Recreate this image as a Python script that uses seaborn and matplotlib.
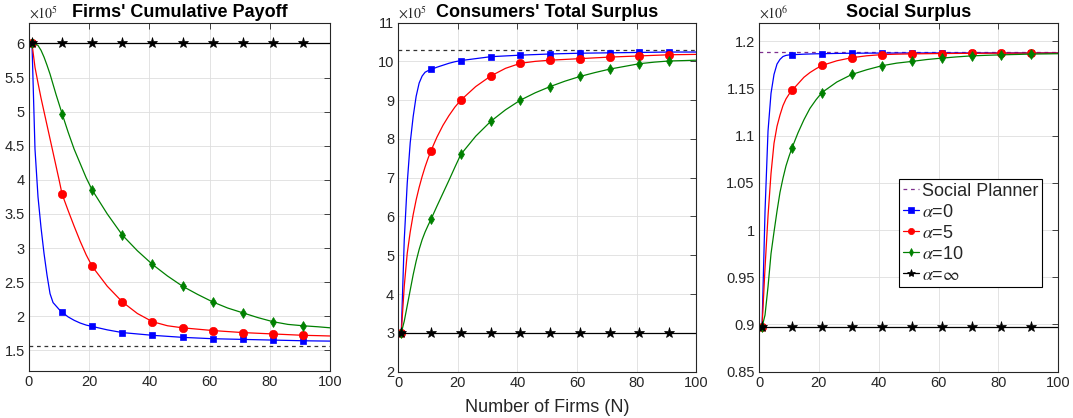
import seaborn as sns
import matplotlib.pyplot as plt
import pandas as pd
import numpy as np

# Número de firmas onde os valores foram lidos
n = [1, 2, 3, 4, 5, 6, 7, 8, 9, 10, 11, 13, 15, 17, 19,
     21, 26, 31, 36, 41, 46, 51, 56, 61, 66, 71, 76, 81, 86, 91, 96, 100]
n_marcadores = [1, 11, 21, 31, 41, 51, 61, 71, 81, 91]

# Firms' Cumulative Payoff (x10^5)
firms_a0 = [6.0, 4.45, 3.75, 3.3, 2.92, 2.6, 2.33, 2.2, 2.15, 2.1, 2.06,
            1.99, 1.94, 1.9, 1.87,
            1.85, 1.8, 1.76, 1.74, 1.72, 1.705, 1.69, 1.68, 1.67, 1.665, 1.66, 1.655, 1.65, 1.645, 1.64, 1.637,
            1.635]
firms_a5 = [6.0, 5.65, 5.42, 5.2, 5.0, 4.8, 4.6, 4.4, 4.2, 4.0, 3.79,
            3.55, 3.32, 3.1, 2.9,
            2.73, 2.44, 2.21, 2.04, 1.92, 1.86, 1.83, 1.81, 1.79, 1.775, 1.76, 1.75, 1.74, 1.73, 1.72, 1.715,
            1.71]
firms_a10 = [6.0, 6.0, 5.97, 5.9, 5.8, 5.68, 5.55, 5.4, 5.25, 5.11, 4.97,
             4.7, 4.45, 4.24, 4.03,
             3.85, 3.5, 3.19, 2.96, 2.76, 2.59, 2.44, 2.32, 2.21, 2.12, 2.05, 1.98, 1.92, 1.88, 1.86, 1.845,
             1.83]
firms_inf = 6.0
firms_planner = 1.57

# Consumers' Total Surplus (x10^5)
cons_a0 = [3.0, 5.4, 6.86, 7.9, 8.58, 9.1, 9.44, 9.62, 9.72, 9.76, 9.79,
           9.85, 9.9, 9.95, 9.99,
           10.02, 10.07, 10.12, 10.14, 10.16, 10.175, 10.19, 10.2, 10.21, 10.215, 10.22, 10.225, 10.23, 10.235, 10.24, 10.24,
           10.24]
cons_a5 = [3.0, 4.2, 5.05, 5.6, 6.05, 6.43, 6.75, 7.03, 7.28, 7.5, 7.7,
           8.05, 8.35, 8.6, 8.82,
           9.0, 9.35, 9.62, 9.82, 9.95, 10.0, 10.03, 10.05, 10.07, 10.09, 10.11, 10.125, 10.14, 10.155, 10.17, 10.175,
           10.18]
cons_a10 = [3.0, 3.3, 3.7, 4.1, 4.5, 4.85, 5.15, 5.4, 5.6, 5.77, 5.93,
            6.27, 6.6, 6.93, 7.27,
            7.6, 8.07, 8.45, 8.75, 9.0, 9.19, 9.35, 9.49, 9.61, 9.71, 9.8, 9.87, 9.94, 9.98, 10.01, 10.02,
            10.03]
cons_inf = 3.0
cons_planner = 10.3

# Social Surplus (x10^6)
soc_a0 = [0.897, 1.02, 1.105, 1.145, 1.165, 1.176, 1.181, 1.184, 1.1852, 1.1857, 1.186,
          1.1862, 1.1865, 1.1867, 1.1869,
          1.187, 1.1873, 1.1875, 1.1876, 1.1877, 1.1877, 1.1878, 1.1878, 1.1878, 1.1878, 1.1878, 1.1878, 1.1878, 1.1878, 1.1878, 1.1878,
          1.1878]
soc_a5 = [0.897, 0.96, 1.015, 1.06, 1.092, 1.11, 1.122, 1.132, 1.139, 1.144, 1.148,
          1.155, 1.162, 1.167, 1.171,
          1.1745, 1.1795, 1.1828, 1.1848, 1.186, 1.1865, 1.1868, 1.187, 1.1872, 1.1873, 1.1874, 1.1875, 1.1876, 1.1876, 1.1877, 1.1877,
          1.1877]
soc_a10 = [0.897, 0.91, 0.94, 0.975, 0.998, 1.02, 1.04, 1.055, 1.068, 1.078, 1.087,
           1.103, 1.117, 1.129, 1.138,
           1.1458, 1.157, 1.165, 1.170, 1.1742, 1.177, 1.1788, 1.1808, 1.1823, 1.1836, 1.1847, 1.1853, 1.1858, 1.1862, 1.1866, 1.1868,
           1.187]
soc_inf = 0.897
soc_planner = 1.1883

rotulos = [r'$\alpha$=0', r'$\alpha$=5', r'$\alpha$=10', r'$\alpha$=$\infty$']
titulos = ["Firms' Cumulative Payoff", "Consumers' Total Surplus", "Social Surplus"]
expoentes = [5, 5, 6]

sns.set_theme(style='white')
plt.rcParams['font.family'] = ['Liberation Sans', 'DejaVu Sans']
plt.rcParams['mathtext.fontset'] = 'stix'

cinza = '#262626'
estilos = [('blue', 's', 5), ('red', 'o', 6), ('green', 'd', 5), ('black', '*', 8)]
idx = [n.index(v) for v in n_marcadores]

fig = plt.figure(figsize=(10.73, 4.18), dpi=100)
posicoes = [[0.027, 0.113, 0.2806, 0.832],
            [0.3712, 0.111, 0.2775, 0.835],
            [0.7074, 0.111, 0.2789, 0.835]]

paineis = [
    ([firms_a0, firms_a5, firms_a10], firms_inf, firms_planner, (1.2, 6.3),
     [1.5, 2, 2.5, 3, 3.5, 4, 4.5, 5, 5.5, 6], '#333333'),
    ([cons_a0, cons_a5, cons_a10], cons_inf, cons_planner, (2, 11),
     [2, 3, 4, 5, 6, 7, 8, 9, 10, 11], '#333333'),
    ([soc_a0, soc_a5, soc_a10], soc_inf, soc_planner, (0.85, 1.22),
     [0.85, 0.9, 0.95, 1, 1.05, 1.1, 1.15, 1.2], '#7E2F8E'),
]

for i, (series, v_inf, v_plan, ylim, yticks, cor_plan) in enumerate(paineis):
    ax = fig.add_axes(posicoes[i])
    ax.axhline(v_plan, color=cor_plan, ls=(0, (3, 3)), lw=0.9, label='Social Planner')
    todas = series + [[v_inf] * len(n)]
    for vals, (cor, mk, ms), lab in zip(todas, estilos, rotulos):
        df = pd.DataFrame({'N': n, 'v': vals})
        sns.lineplot(data=df, x='N', y='v', ax=ax, color=cor, marker=mk, markersize=ms,
                     markevery=idx, markeredgewidth=0.5, markeredgecolor=cor,
                     lw=0.9, label=lab, legend=False)
    ax.set_xlim(0, 100)
    ax.set_ylim(*ylim)
    ax.set_xticks([0, 20, 40, 60, 80, 100])
    ax.set_yticks(yticks)
    ax.set_yticklabels(['%g' % t for t in yticks])
    ax.set_xlabel('')
    ax.set_ylabel('')
    ax.grid(True, color='#dedede', lw=0.6)
    ax.tick_params(direction='in', top=True, right=True, length=4, width=0.6,
                   labelsize=10.5, colors=cinza, pad=3)
    for s in ax.spines.values():
        s.set_color(cinza)
        s.set_linewidth(0.8)
    ax.set_title(titulos[i], fontsize=13, fontweight='bold', pad=4, color='black')
    ax.text(0.0, 1.004, r'$\times10^{%d}$' % expoentes[i], transform=ax.transAxes,
            ha='left', va='bottom', fontsize=10, color=cinza)
    if i == 2:
        leg = ax.legend(loc='upper right', bbox_to_anchor=(0.9455, 0.5516), fontsize=13,
                        handlelength=0.9, handletextpad=0.15, labelspacing=0.22,
                        borderpad=0.2, borderaxespad=0, fancybox=False, framealpha=1,
                        markerscale=0.75)
        leg.get_frame().set_edgecolor('black')
        leg.get_frame().set_linewidth(0.8)

fig.text(0.5098, 0.024, 'Number of Firms (N)', ha='center', va='center', fontsize=13, color=cinza)

fig.savefig('out.png', dpi=100)
